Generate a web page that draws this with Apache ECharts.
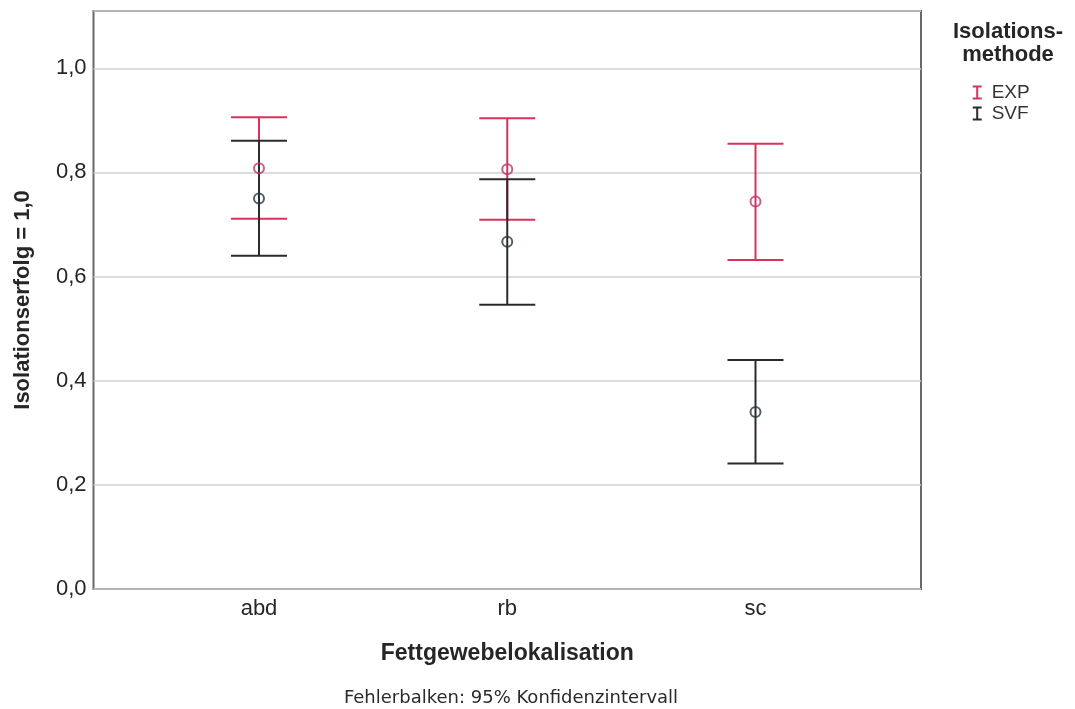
<!DOCTYPE html>
<html>
<head>
<meta charset="utf-8">
<script src="https://cdn.jsdelivr.net/npm/echarts@6/dist/echarts.min.js"></script>
<style>
  html, body { margin: 0; padding: 0; background: #fff; }
  #chart { width: 1075px; height: 709px; }
</style>
</head>
<body>
<div id="chart"></div>
<script>
// Adipose tissue locations (x categories)
const categories = ['abd', 'rb', 'sc'];

// Isolation success, mean with 95% confidence interval, per method
const expMean = [0.808, 0.806, 0.744];
const expLow  = [0.711, 0.709, 0.632];
const expHigh = [0.906, 0.904, 0.855];

const svfMean = [0.750, 0.667, 0.340];
const svfLow  = [0.640, 0.546, 0.241];
const svfHigh = [0.861, 0.787, 0.440];

const yTicks = [0, 0.2, 0.4, 0.6, 0.8, 1.0];

const RED = '#d9335c';
const RED_MARK = '#b8386c';
const DARK = '#2b2b2b';
const DARK_MARK = '#263840';
const FONT = '"Liberation Sans", Arial, sans-serif';

function errorBarRenderer(color) {
  return function (params, api) {
    const x = api.value(0);
    const lo = api.coord([x, api.value(1)]);
    const hi = api.coord([x, api.value(2)]);
    const half = 28;
    const style = { stroke: color, lineWidth: 2 };
    return {
      type: 'group',
      children: [
        { type: 'line', shape: { x1: lo[0], y1: lo[1], x2: hi[0], y2: hi[1] }, style },
        { type: 'line', shape: { x1: hi[0] - half, y1: hi[1], x2: hi[0] + half, y2: hi[1] }, style },
        { type: 'line', shape: { x1: lo[0] - half, y1: lo[1], x2: lo[0] + half, y2: lo[1] }, style }
      ]
    };
  };
}

const expBars = categories.map((c, i) => [i, expLow[i], expHigh[i]]);
const svfBars = categories.map((c, i) => [i, svfLow[i], svfHigh[i]]);
const expPts = categories.map((c, i) => [i, expMean[i]]);
const svfPts = categories.map((c, i) => [i, svfMean[i]]);

const chart = echarts.init(document.getElementById('chart'), null, { renderer: 'canvas' });

chart.setOption({
  animation: false,
  backgroundColor: '#ffffff',
  grid: {
    left: 93.5, right: 154, top: 11, bottom: 120,
    show: true, borderColor: '#686868', borderWidth: 2, backgroundColor: 'transparent'
  },
  xAxis: {
    type: 'value',
    min: -2 / 3,
    max: 8 / 3,
    name: 'Fettgewebelokalisation',
    nameLocation: 'middle',
    nameGap: 53,
    nameTextStyle: { fontFamily: FONT, fontSize: 23, fontWeight: 'bold', color: '#262626' },
    axisLine: { show: false },
    axisTick: { show: false },
    splitLine: { show: false },
    axisLabel: {
      customValues: [0, 1, 2],
      formatter: v => categories[Math.round(v)] || '',
      fontFamily: FONT, fontSize: 22, color: '#262626', margin: 9
    }
  },
  yAxis: {
    type: 'value',
    min: 0,
    max: 1.11,
    name: 'Isolationserfolg = 1,0',
    nameLocation: 'middle',
    nameGap: 60,
    nameTextStyle: { fontFamily: FONT, fontSize: 22, fontWeight: 'bold', color: '#262626' },
    axisLine: { show: false },
    axisTick: { show: false },
    splitLine: {
      show: true,
      lineStyle: { color: '#cfcfcf', width: 1.5 }
    },
    axisLabel: {
      customValues: yTicks,
      formatter: v => v.toFixed(1).replace('.', ','),
      fontFamily: FONT, fontSize: 22, color: '#262626', margin: 7
    }
  },
  legend: {
    orient: 'vertical',
    left: 967.7,
    top: 78,
    itemGap: 2,
    itemWidth: 19,
    itemHeight: 14,
    icon: 'path://M0,0H9V2H5.5V12H9V14H0V12H3.5V2H0Z',
    textStyle: { fontFamily: FONT, fontSize: 19, color: '#333' },
    data: ['EXP', 'SVF']
  },
  graphic: [
    {
      type: 'text',
      style: {
        text: 'Isolations-\nmethode', x: 1008, y: 20, textAlign: 'center', textVerticalAlign: 'top',
        font: 'bold 22px ' + FONT, fill: '#262626', lineHeight: 23
      }
    },
    {
      type: 'text',
      style: {
        text: 'Fehlerbalken: 95% Konfidenzintervall', x: 511, y: 698,
        textAlign: 'center', textVerticalAlign: 'middle',
        font: '18px "DejaVu Sans", sans-serif', fill: '#2a2a2a'
      }
    }
  ],
  series: [
    {
      name: 'EXP', type: 'custom', renderItem: errorBarRenderer(RED),
      itemStyle: { color: RED }, encode: { x: 0, y: [1, 2] }, data: expBars, z: 2
    },
    {
      name: 'SVF', type: 'custom', renderItem: errorBarRenderer(DARK),
      itemStyle: { color: DARK }, encode: { x: 0, y: [1, 2] }, data: svfBars, z: 3
    },
    {
      name: 'EXP Mittelwert', type: 'scatter', symbol: 'circle', symbolSize: 10, z: 5,
      itemStyle: { color: 'rgba(0,0,0,0)', borderColor: RED_MARK, borderWidth: 2 },
      data: expPts
    },
    {
      name: 'SVF Mittelwert', type: 'scatter', symbol: 'circle', symbolSize: 10, z: 5,
      itemStyle: { color: 'rgba(0,0,0,0)', borderColor: DARK_MARK, borderWidth: 2 },
      data: svfPts
    }
  ]
});
</script>
</body>
</html>
